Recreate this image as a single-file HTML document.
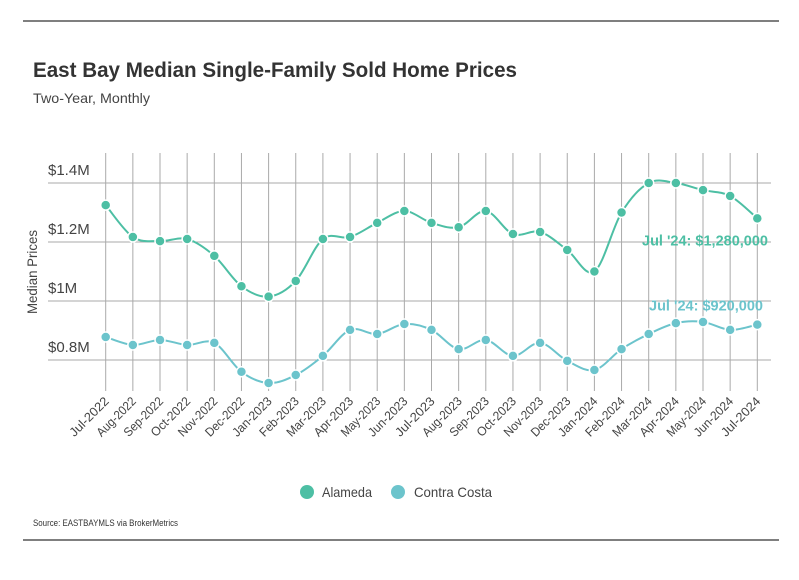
<!DOCTYPE html>
<html><head><meta charset="utf-8"><style>
body{margin:0;background:#fff;width:799px;height:575px;overflow:hidden;font-family:"Liberation Sans",sans-serif}
</style></head><body>
<svg width="799" height="575" xmlns="http://www.w3.org/2000/svg" style="font-family:'Liberation Sans',sans-serif">
<line x1="23" y1="21" x2="779" y2="21" stroke="#333" stroke-width="1.2"/>
<line x1="23" y1="540" x2="779" y2="540" stroke="#333" stroke-width="1.2"/>
<text x="33" y="77" font-size="21" font-weight="bold" fill="#333" textLength="484" lengthAdjust="spacingAndGlyphs">East Bay Median Single-Family Sold Home Prices</text>
<text x="33" y="103" font-size="14" fill="#444" textLength="117" lengthAdjust="spacingAndGlyphs">Two-Year, Monthly</text>
<text transform="translate(37,272) rotate(-90)" text-anchor="middle" font-size="14" fill="#444" textLength="84" lengthAdjust="spacingAndGlyphs">Median Prices</text>
<g id="grid"></g><g id="series"></g><g id="xl"></g>
<g>
<g><circle cx="307" cy="492" r="7" fill="#4dbfa4"/><text x="322" y="497" font-size="14" fill="#444" textLength="50" lengthAdjust="spacingAndGlyphs">Alameda</text></g>
<g><circle cx="398" cy="492" r="7" fill="#6cc4cc"/><text x="414" y="497" font-size="14" fill="#444" textLength="78" lengthAdjust="spacingAndGlyphs">Contra Costa</text></g>
</g>
<text x="33" y="526" font-size="9" fill="#333" textLength="145" lengthAdjust="spacingAndGlyphs">Source:  EASTBAYMLS via BrokerMetrics</text>
</svg>
<script>
const categories=["Jul-2022","Aug-2022","Sep-2022","Oct-2022","Nov-2022","Dec-2022","Jan-2023","Feb-2023","Mar-2023","Apr-2023","May-2023","Jun-2023","Jul-2023","Aug-2023","Sep-2023","Oct-2023","Nov-2023","Dec-2023","Jan-2024","Feb-2024","Mar-2024","Apr-2024","May-2024","Jun-2024","Jul-2024"];
const alameda=[1.325,1.217,1.203,1.21,1.153,1.05,1.015,1.068,1.21,1.217,1.265,1.305,1.265,1.25,1.305,1.227,1.234,1.173,1.10,1.30,1.40,1.40,1.376,1.356,1.28];
const contraCosta=[0.878,0.851,0.868,0.851,0.858,0.76,0.722,0.749,0.814,0.902,0.888,0.922,0.902,0.837,0.868,0.814,0.858,0.797,0.766,0.837,0.888,0.925,0.929,0.902,0.92];
const yTicks=[0.8,1.0,1.2,1.4];
const yTickLabels=["$0.8M","$1M","$1.2M","$1.4M"];
const ns="http://www.w3.org/2000/svg";
function X(i){return 105.7+i*(757.3-105.7)/(categories.length-1);}
function Y(v){return 301-(v-1.0)*295;}
function mk(t,a,p){const e=document.createElementNS(ns,t);for(const k in a)e.setAttribute(k,a[k]);p.appendChild(e);return e;}
const grid=document.getElementById('grid'),ser=document.getElementById('series'),xl=document.getElementById('xl');
yTicks.forEach((v,i)=>{
 const l=mk('line',{x1:48,x2:771,y1:Y(v),y2:Y(v),stroke:'#aaa','stroke-width':1},grid);
 
 
 const t=mk('text',{x:48,y:Y(v)-8,'font-size':15,fill:'#444'},grid);t.textContent=yTickLabels[i];
 
 
});
categories.forEach((c,i)=>{
 const l=mk('line',{x1:X(i),x2:X(i),y1:153,y2:391,stroke:'#aaa','stroke-width':1},grid);
 
 
 const t=mk('text',{x:X(i)+4,y:402,'font-size':12.5,fill:'#444','text-anchor':'end',textLength:50,lengthAdjust:'spacingAndGlyphs',transform:`rotate(-45 ${X(i)+4} 402)`},xl);t.textContent=c;
 
 
});
function path(vals){const p=vals.map((v,i)=>[X(i),Y(v)]);let d=`M${p[0][0]},${p[0][1]}`;
 for(let i=0;i<p.length-1;i++){const p0=p[Math.max(0,i-1)],p1=p[i],p2=p[i+1],p3=p[Math.min(p.length-1,i+2)];const k=6;
 d+=` C${p1[0]+(p2[0]-p0[0])/k},${p1[1]+(p2[1]-p0[1])/k} ${p2[0]-(p3[0]-p1[0])/k},${p2[1]-(p3[1]-p1[1])/k} ${p2[0]},${p2[1]}`;}return d;}
[[alameda,'#4dbfa4','alameda'],[contraCosta,'#6cc4cc','contra-costa']].forEach(([vals,col,n])=>{
 const pa=mk('path',{d:path(vals),fill:'none',stroke:col,'stroke-width':2},ser);
 
 
 vals.forEach((v,i)=>{const c=mk('circle',{cx:X(i),cy:Y(v),r:5,fill:col,stroke:'#fff','stroke-width':1.5},ser);
  
  });
});
const last=categories.length-1;
const a1=mk('text',{x:768,y:Y(alameda[last])+27,'font-size':15,'font-weight':'bold',fill:'#4dbfa4','text-anchor':'end',textLength:126,lengthAdjust:'spacingAndGlyphs'},ser);a1.textContent="Jul '24: $1,280,000";


const a2=mk('text',{x:763,y:Y(contraCosta[last])-14,'font-size':15,'font-weight':'bold',fill:'#6cc4cc','text-anchor':'end',textLength:114,lengthAdjust:'spacingAndGlyphs'},ser);a2.textContent="Jul '24: $920,000";


</script>
</body></html>
